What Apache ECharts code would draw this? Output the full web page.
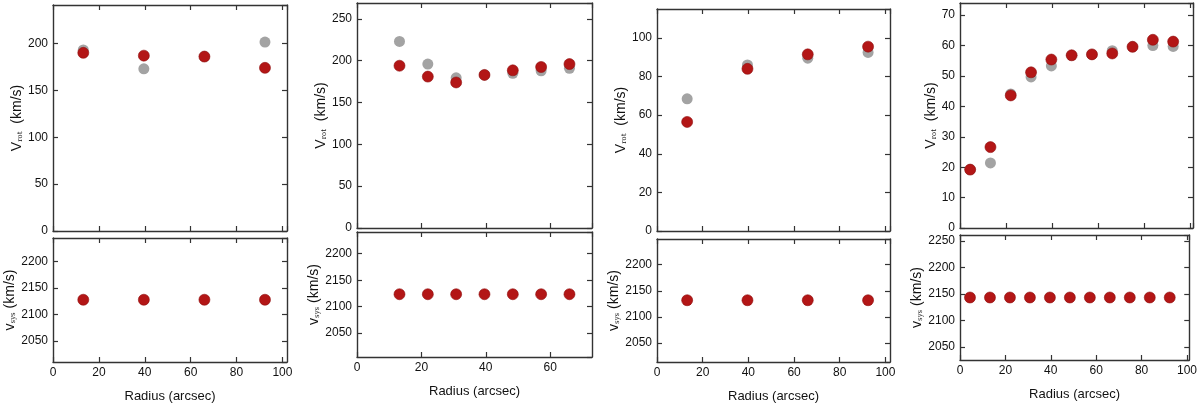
<!DOCTYPE html>
<html>
<head>
<meta charset="utf-8">
<script src="https://cdn.jsdelivr.net/npm/echarts@6/dist/echarts.min.js"></script>
<style>
  html, body { margin: 0; padding: 0; background: #fff; }
  #chart { width: 1200px; height: 404px; }
</style>
</head>
<body>
<div id="chart"></div>
<script>
// ring radii (arcsec)
const radiusA = [13.2, 39.6, 66, 92.4];
const radiusB = [13.2, 22, 30.8, 39.6, 48.4, 57.2, 66];
const radiusD = [4.4, 13.2, 22, 30.8, 39.6, 48.4, 57.2, 66, 74.8, 83.6, 92.4];

// panel 1
const vrotGrey1 = [193, 173, 186, 201.5];
const vrotRed1 = [190, 187, 186, 174];
const vsys1 = [2128, 2128, 2128, 2128];
// panel 2
const vrotGrey2 = [223, 196, 179.5, 183, 185, 188, 191];
const vrotRed2 = [194, 181, 174, 183, 188.5, 192.5, 196];
const vsys2 = [2123.5, 2123.5, 2123.5, 2123.5, 2123.5, 2123.5, 2123.5];
// panel 3
const vrotGrey3 = [68.5, 86, 89.5, 92.5];
const vrotRed3 = [56.5, 84, 91.5, 95.5];
const vsys3 = [2132, 2132, 2132, 2132];
// panel 4
const vrotGrey4 = [19.2, 21.4, 44.1, 49.7, 53.3, 56.8, 57.1, 58.3, 59.6, 60, 59.7];
const vrotRed4 = [19.2, 26.6, 43.6, 51.2, 55.4, 56.8, 57.1, 57.4, 59.6, 61.9, 61.3];
const vsys4 = [2143, 2143, 2143, 2143, 2143, 2143, 2143, 2143, 2143, 2143, 2143];

const AXIS_COLOR = "#333";
const RED = "#b31616";
const GREY = "#a3a3a3";
const FONT = "Liberation Sans";

const panels = [
  { left: 53, width: 234, topY: 5, topH: 226, botY: 238, botH: 125, xMax: 102, gapTop: 29,
    r: radiusA, grey: vrotGrey1, red: vrotRed1, sys: vsys1,
    vMax: 241, vInt: 50, sMin: 2010, sMax: 2245 },
  { left: 357, width: 235, topY: 3, topH: 225, botY: 232, botH: 125, xMax: 73, gapTop: 29,
    r: radiusB, grey: vrotGrey2, red: vrotRed2, sys: vsys2,
    vMax: 269, vInt: 50, sMin: 2005, sMax: 2241 },
  { left: 657, width: 233, topY: 9, topH: 222, botY: 239, botH: 124, xMax: 102, gapTop: 29,
    r: radiusA, grey: vrotGrey3, red: vrotRed3, sys: vsys3,
    vMax: 115, vInt: 20, sMin: 2014, sMax: 2249 },
  { left: 960, width: 233, topY: 3, topH: 225, botY: 235, botH: 125, xMax: 101, gapTop: 21,
    r: radiusD, grey: vrotGrey4, red: vrotRed4, sys: vsys4,
    vMax: 74, vInt: 10, sMin: 2025, sMax: 2261 }
];

const grid = [], xAxis = [], yAxis = [], series = [];

const nameRich = {
  a: { fontFamily: FONT, fontSize: 14, color: "#111" },
  b: { fontFamily: "DejaVu Serif", fontSize: 7, color: "#111", verticalAlign: "bottom", padding: [4, 0, 0, 0] }
};

const plain = function (v) { return String(v); };

function axisLine() {
  return { show: true, onZero: false, lineStyle: { color: AXIS_COLOR, width: 1.4 } };
}
function axisTick() {
  return { show: true, inside: true, length: 5, lineStyle: { color: AXIS_COLOR, width: 1.2 } };
}

function addGrid(p, top, height, isBottom) {
  const gi = grid.length;
  grid.push({ left: p.left, width: p.width, top: top, height: height });

  // bottom and mirrored top x axes
  ["bottom", "top"].forEach(function (pos) {
    xAxis.push({
      gridIndex: gi, type: "value", position: pos, min: 0, max: p.xMax, interval: 20,
      name: pos === "bottom" && isBottom ? "Radius (arcsec)" : "",
      nameLocation: "middle", nameGap: 28,
      nameTextStyle: { fontFamily: FONT, fontSize: 13, color: "#111" },
      axisLine: axisLine(),
      axisTick: axisTick(),
      axisLabel: { show: pos === "bottom" && isBottom, showMaxLabel: false, margin: 5,
        fontFamily: FONT, fontSize: 12, color: "#111", formatter: plain },
      splitLine: { show: false }
    });
  });

  // left and mirrored right y axes
  ["left", "right"].forEach(function (pos) {
    const ax = {
      gridIndex: gi, type: "value", position: pos,
      name: pos === "left" ? (isBottom ? "{a|v}{b|sys}{a| (km/s)}" : "{a|V}{b|rot}{a|  (km/s)}") : "",
      nameLocation: "middle", nameGap: isBottom ? 36 : p.gapTop,
      nameTextStyle: { rich: nameRich },
      axisLine: axisLine(),
      axisTick: axisTick(),
      axisLabel: { show: pos === "left", showMaxLabel: false, margin: 5,
        fontFamily: FONT, fontSize: 12, color: "#111", formatter: plain },
      splitLine: { show: false }
    };
    if (isBottom) {
      ax.min = p.sMin; ax.max = p.sMax; ax.splitNumber = 5;
      ax.axisLabel.showMinLabel = false;
    } else {
      ax.min = 0; ax.max = p.vMax; ax.interval = p.vInt;
    }
    yAxis.push(ax);
  });
  return gi;
}

function pts(r, v) {
  return r.map(function (x, i) { return [x, v[i]]; });
}

const redStyle = { color: RED, opacity: 1, borderColor: "#8e0e0e", borderWidth: 0.6 };

panels.forEach(function (p) {
  const gt = addGrid(p, p.topY, p.topH, false);
  series.push({
    type: "scatter", xAxisIndex: gt * 2, yAxisIndex: gt * 2, symbolSize: 11,
    itemStyle: { color: GREY, opacity: 1 }, data: pts(p.r, p.grey), z: 2
  });
  series.push({
    type: "scatter", xAxisIndex: gt * 2, yAxisIndex: gt * 2, symbolSize: 11,
    itemStyle: redStyle, data: pts(p.r, p.red), z: 3
  });
  const gb = addGrid(p, p.botY, p.botH, true);
  series.push({
    type: "scatter", xAxisIndex: gb * 2, yAxisIndex: gb * 2, symbolSize: 11,
    itemStyle: redStyle, data: pts(p.r, p.sys), z: 3
  });
});

const chart = echarts.init(document.getElementById("chart"), null, { renderer: "canvas" });
chart.setOption({
  animation: false,
  backgroundColor: "#fff",
  grid: grid,
  xAxis: xAxis,
  yAxis: yAxis,
  series: series
});
</script>
</body>
</html>
